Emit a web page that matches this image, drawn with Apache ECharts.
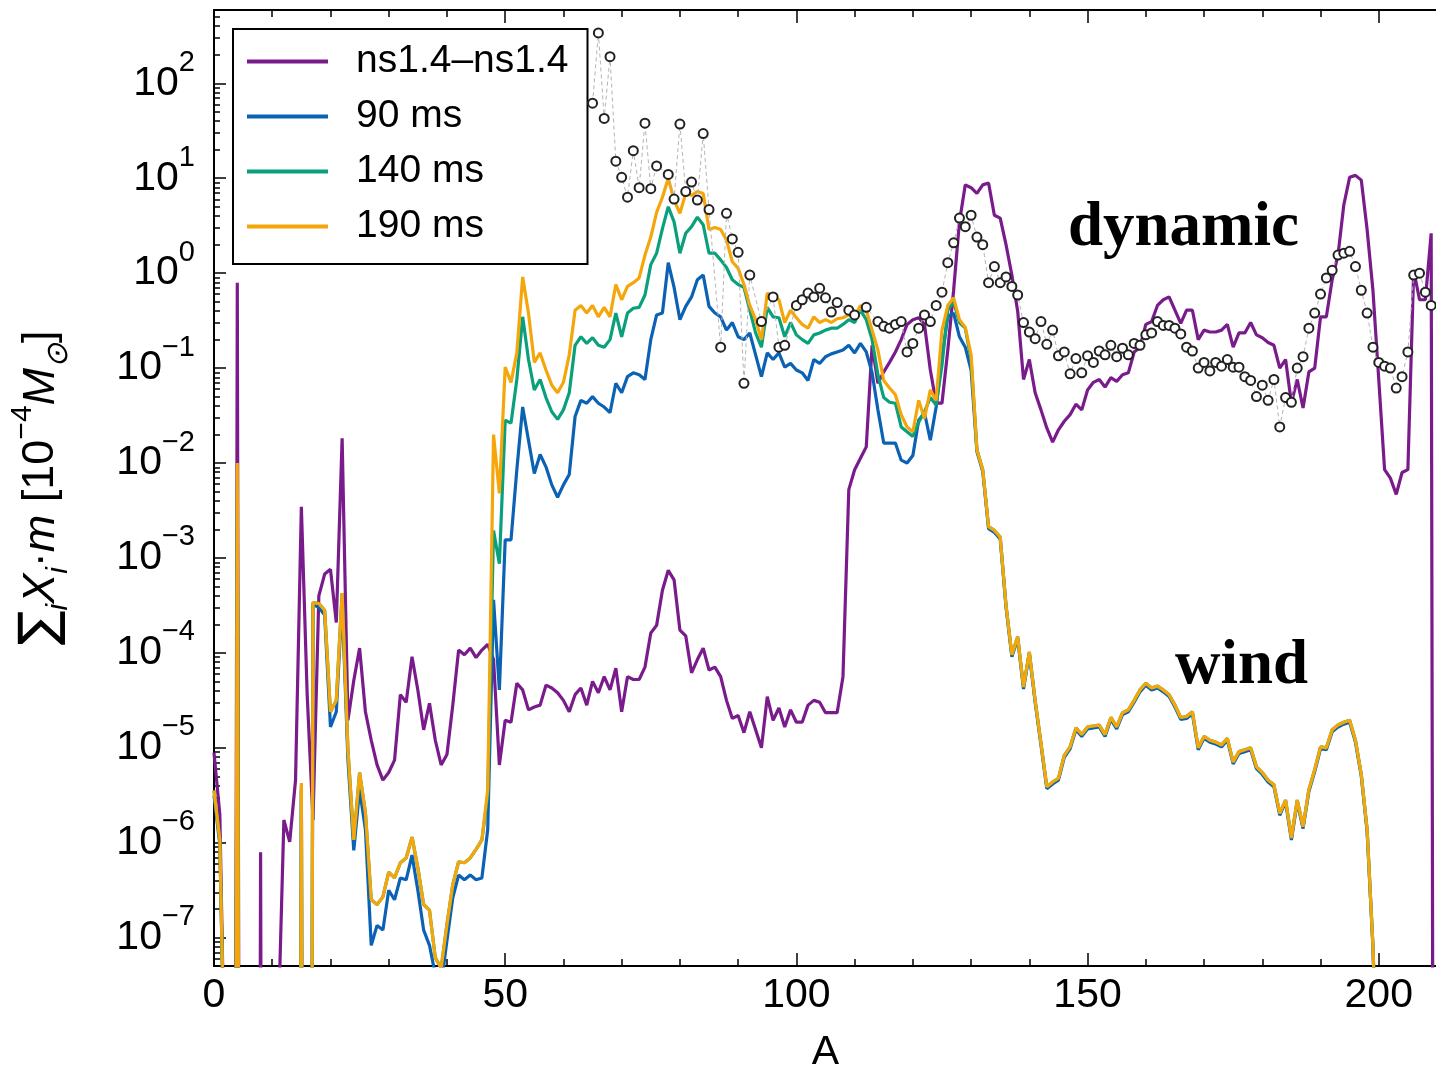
<!DOCTYPE html>
<html><head><meta charset="utf-8">
<script src="https://cdn.jsdelivr.net/npm/echarts@6/dist/echarts.min.js"></script>
<style>html,body{margin:0;padding:0;background:#fff}#c{width:1436px;height:1067px}</style>
</head><body><div id="c"></div><script>
// Mass number A
const range = (a, b) => Array.from({length: b - a + 1}, (_, i) => a + i);
const A_ns = range(0, 210);
const A_wind = range(0, 200);

// log10 of sum X_i*m [1e-4 Msun]; values far below the axis (-30) mark zero abundance
const logM_ns = [
 -5.05,-5.70,-9,-30,-0.10,-30,-30,-30,-6.10,-30,
 -30,-8,-5.76,-5.99,-5.34,-2.46,-4.44,-5.76,-3.40,-3.17,
 -3.12,-3.68,-1.74,-4.71,-4.29,-3.95,-4.62,-4.92,-5.18,-5.34,
 -5.26,-5.13,-4.44,-4.52,-4.04,-4.39,-4.81,-4.53,-4.92,-5.18,
 -5.07,-4.55,-3.97,-4.02,-3.95,-4.05,-3.97,-3.91,-4.07,-5.18,
 -4.71,-4.73,-4.32,-4.39,-4.60,-4.57,-4.55,-4.34,-4.37,-4.42,
 -4.50,-4.62,-4.44,-4.37,-4.55,-4.30,-4.42,-4.25,-4.39,-4.16,
 -4.62,-4.25,-4.28,-4.28,-4.15,-3.79,-3.71,-3.34,-3.13,-3.23,
 -3.76,-3.82,-4.21,-4.07,-3.95,-4.18,-4.15,-4.25,-4.50,-4.69,
 -4.66,-4.84,-4.62,-4.81,-5.00,-4.46,-4.71,-4.58,-4.78,-4.60,
 -4.73,-4.73,-4.55,-4.50,-4.52,-4.63,-4.63,-4.63,-4.25,-2.28,
 -2.07,-1.95,-1.83,-0.76,-1.16,-1.04,-0.94,-0.83,-0.70,-0.54,
 -0.49,-0.47,-0.54,-1.02,-1.37,-1.37,-0.81,-0.18,0.54,0.93,
 0.90,0.84,0.93,0.95,0.61,0.58,0.30,-0.02,-0.40,-1.12,
 -0.91,-1.26,-1.44,-1.63,-1.78,-1.65,-1.56,-1.49,-1.38,-1.44,
 -1.23,-1.15,-1.12,-1.20,-1.10,-1.14,-1.07,-1.05,-0.83,-0.78,
 -0.54,-0.51,-0.34,-0.28,-0.25,-0.39,-0.53,-0.39,-0.39,-0.70,
 -0.60,-0.62,-0.62,-0.60,-0.54,-0.78,-0.63,-0.63,-0.52,-0.65,
 -0.68,-0.73,-0.76,-1.00,-0.91,-1.37,-1.12,-1.42,-1.04,-1.00,
 -0.46,-0.46,-0.07,0.19,0.72,1.01,1.03,0.98,0.46,-0.18,
 -1.12,-2.07,-2.16,-2.33,-2.10,-2.07,0.03,-0.28,-0.28,0.42,
 -30
];

const logM_90 = [
 -5.50,-6.02,-9,-30,-2.6,-30,-30,-30,-30,-30,
 -30,-30,-30,-30,-30,-5.45,-30,-3.49,-3.52,-3.60,
 -4.78,-4.62,-3.44,-5.13,-6.08,-5.44,-5.86,-7.08,-6.87,-6.92,
 -6.50,-6.60,-6.37,-6.39,-6.13,-6.50,-6.92,-7.08,-7.39,-7.50,
 -7.03,-6.58,-6.34,-6.39,-6.34,-6.39,-6.37,-5.86,-3.44,-4.39,
 -2.81,-2.81,-2.07,-1.41,-1.76,-2.11,-1.91,-2.04,-2.23,-2.36,
 -2.23,-2.12,-1.51,-1.34,-1.37,-1.30,-1.37,-1.41,-1.47,-1.16,
 -1.26,-1.09,-1.05,-1.07,-1.12,-0.70,-0.44,-0.42,0.11,-0.15,
 -0.49,-0.35,-0.25,-0.07,-0.02,-0.35,-0.42,-0.46,-0.60,-0.52,
 -0.67,-0.70,-0.63,-0.86,-1.09,-0.84,-0.91,-0.84,-0.99,-0.95,
 -1.02,-1.05,-1.13,-0.91,-0.95,-0.88,-0.85,-0.83,-0.81,-0.76,
 -0.84,-0.74,-0.83,-1.05,-1.44,-1.79,-1.79,-1.79,-1.97,-2.00,
 -1.92,-1.55,-1.47,-1.76,-1.41,-0.88,-0.46,-0.42,-0.67,-0.78,
 -1.02,-1.88,-2.09,-2.69,-2.73,-2.80,-3.52,-4.04,-3.85,-4.38,
 -4.01,-4.52,-4.97,-5.43,-5.38,-5.34,-5.10,-5.01,-4.81,-4.88,
 -4.80,-4.79,-4.78,-4.88,-4.70,-4.80,-4.65,-4.62,-4.52,-4.41,
 -4.34,-4.39,-4.37,-4.41,-4.46,-4.57,-4.70,-4.69,-4.64,-5.02,
 -4.90,-4.94,-4.96,-4.99,-4.92,-5.17,-5.06,-5.04,-5.02,-5.22,
 -5.28,-5.36,-5.41,-5.71,-5.57,-5.97,-5.57,-5.85,-5.46,-5.25,
 -5.01,-5.02,-4.83,-4.78,-4.75,-4.73,-4.94,-5.30,-5.88,-7.10,
 -9
];

const logM_140 = [
 -5.45,-5.97,-9,-30,-2.2,-30,-30,-30,-30,-30,
 -30,-30,-30,-30,-30,-5.40,-30,-3.47,-3.48,-3.55,
 -4.62,-4.50,-3.37,-5.02,-5.97,-5.26,-5.68,-6.60,-6.65,-6.57,
 -6.31,-6.37,-6.21,-6.16,-5.94,-6.26,-6.65,-6.71,-7.21,-7.32,
 -6.86,-6.44,-6.20,-6.21,-6.16,-6.07,-5.97,-5.50,-2.71,-3.06,
 -1.55,-1.58,-1.12,-0.46,-0.91,-1.23,-1.12,-1.31,-1.46,-1.54,
 -1.44,-1.26,-0.76,-0.67,-0.74,-0.68,-0.76,-0.78,-0.70,-0.42,
 -0.67,-0.42,-0.37,-0.36,-0.23,0.09,0.21,0.47,0.70,0.54,
 0.21,0.42,0.49,0.59,0.51,0.21,0.21,0.14,0.06,-0.07,
 -0.12,-0.15,-0.39,-0.63,-0.78,-0.36,-0.46,-0.47,-0.67,-0.52,
 -0.65,-0.70,-0.74,-0.65,-0.63,-0.60,-0.58,-0.58,-0.54,-0.49,
 -0.52,-0.39,-0.49,-0.70,-1.07,-1.31,-1.36,-1.37,-1.62,-1.67,
 -1.72,-1.57,-1.46,-1.31,-1.39,-0.97,-0.39,-0.30,-0.52,-0.58,
 -0.91,-1.86,-2.07,-2.67,-2.71,-2.78,-3.50,-4.02,-3.83,-4.36,
 -3.99,-4.50,-4.95,-5.41,-5.36,-5.32,-5.08,-4.99,-4.79,-4.86,
 -4.78,-4.77,-4.76,-4.86,-4.68,-4.78,-4.63,-4.60,-4.50,-4.39,
 -4.32,-4.37,-4.35,-4.39,-4.44,-4.55,-4.68,-4.67,-4.62,-5.00,
 -4.88,-4.92,-4.94,-4.97,-4.90,-5.15,-5.04,-5.02,-5.00,-5.20,
 -5.26,-5.34,-5.39,-5.69,-5.55,-5.95,-5.55,-5.83,-5.44,-5.23,
 -4.99,-5.00,-4.81,-4.76,-4.73,-4.71,-4.92,-5.28,-5.86,-7.08,
 -9
];

const logM_190 = [
 -5.45,-5.97,-9,-30,-2.00,-30,-30,-30,-30,-30,
 -30,-30,-30,-30,-30,-5.37,-30,-3.47,-3.48,-3.55,
 -4.62,-4.50,-3.37,-5.02,-5.97,-5.26,-5.68,-6.60,-6.65,-6.57,
 -6.31,-6.37,-6.21,-6.16,-5.94,-6.26,-6.65,-6.71,-7.21,-7.32,
 -6.86,-6.44,-6.20,-6.21,-6.16,-6.07,-5.97,-5.44,-1.70,-2.32,
 -0.99,-1.15,-0.84,-0.04,-0.42,-0.94,-0.84,-1.02,-1.18,-1.26,
 -1.15,-0.86,-0.39,-0.34,-0.42,-0.34,-0.46,-0.36,-0.46,-0.12,
 -0.28,-0.14,-0.10,-0.05,0.19,0.38,0.64,0.80,1.00,0.77,
 0.63,0.84,0.82,0.86,0.84,0.46,0.48,0.46,0.35,0.12,
 0.05,-0.12,-0.34,-0.49,-0.70,-0.21,-0.25,-0.28,-0.52,-0.39,
 -0.47,-0.54,-0.58,-0.46,-0.52,-0.49,-0.52,-0.48,-0.47,-0.44,
 -0.47,-0.34,-0.39,-0.60,-0.81,-1.13,-1.21,-1.28,-1.49,-1.62,
 -1.67,-1.34,-1.53,-1.23,-1.34,-0.60,-0.34,-0.26,-0.49,-0.57,
 -0.86,-1.86,-2.07,-2.67,-2.71,-2.78,-3.50,-4.02,-3.83,-4.36,
 -3.99,-4.50,-4.95,-5.41,-5.36,-5.32,-5.08,-4.99,-4.79,-4.86,
 -4.78,-4.77,-4.76,-4.86,-4.68,-4.78,-4.63,-4.60,-4.50,-4.39,
 -4.32,-4.37,-4.35,-4.39,-4.44,-4.55,-4.68,-4.67,-4.62,-5.00,
 -4.88,-4.92,-4.94,-4.97,-4.90,-5.15,-5.04,-5.02,-5.00,-5.20,
 -5.26,-5.34,-5.39,-5.69,-5.55,-5.95,-5.55,-5.83,-5.44,-5.23,
 -4.99,-5.00,-4.81,-4.76,-4.73,-4.71,-4.92,-5.28,-5.86,-7.08,
 -9
];

// open circles (dynamic ejecta reference)
const A_dyn = [65,66,67,68,69,70,71,72,73,74,75,76,78,79,80,81,82,83,84,85,87,88,89,90,91,92,94,96,97,98,
 100,101,102,103,104,105,106,107,109,110,112,114,115,116,117,118,119,120,121,122,123,124,125,126,127,128,129,130,
 131,132,133,134,135,136,137,138,139,140,141,142,143,144,145,146,147,148,149,150,151,152,153,154,155,156,157,158,159,160,
 161,162,163,164,165,166,167,168,169,170,171,172,173,174,175,176,177,178,179,180,181,182,183,184,185,186,187,188,189,190,
 191,192,193,194,195,196,197,198,199,200,201,202,203,204,205,206,207,208,209];
const logM_dyn = [1.79,2.53,1.63,2.28,1.18,1.01,0.80,1.29,0.90,1.58,0.89,1.13,1.04,0.78,1.57,0.86,0.96,0.77,1.47,0.67,-0.78,0.63,0.36,0.22,-1.16,-0.02,-0.51,-0.25,-0.78,-0.76,
 -0.34,-0.28,-0.21,-0.25,-0.16,-0.26,-0.41,-0.31,-0.39,-0.44,-0.36,-0.51,-0.56,-0.58,-0.54,-0.51,-0.83,-0.74,-0.58,-0.44,-0.51,-0.34,-0.20,0.11,0.32,0.58,0.49,0.61,
 0.38,0.30,-0.10,0.07,-0.10,-0.04,-0.14,-0.23,-0.52,-0.62,-0.69,-0.51,-0.75,-0.60,-0.87,-0.83,-1.06,-0.90,-1.05,-0.87,-0.94,-0.82,-0.86,-0.76,-0.88,-0.79,-0.86,-0.74,-0.76,-0.65,
 -0.63,-0.51,-0.55,-0.55,-0.58,-0.64,-0.78,-0.82,-1.00,-0.94,-1.03,-0.94,-0.98,-0.91,-0.99,-0.99,-1.09,-1.13,-1.30,-1.18,-1.34,-1.12,-1.62,-1.31,-1.36,-1.00,-0.88,-0.58,-0.42,-0.22,
 -0.05,0.03,0.19,0.21,0.23,0.07,-0.18,-0.42,-0.78,-0.94,-0.98,-1.00,-1.21,-1.09,-0.83,-0.02,0.00,-0.20,-0.34];

const names = ['ns1.4\u2013ns1.4', '90 ms', '140 ms', '190 ms'];
const colors = ['#7a1b8c', '#0b62b5', '#0aa07c', '#f4a60a'];
const yMajor = [-7,-6,-5,-4,-3,-2,-1,0,1,2];
const xMajor = [0,50,100,150,200];
const xMinor = [10,20,30,40,60,70,80,90,110,120,130,140,160,170,180,190,210];

const Y_MIN = -7.298, Y_MAX = 2.772;
const yMinor = [];
for (let n = -8; n <= 2; n++) for (let k = 2; k <= 9; k++) {
  const v = n + Math.log10(k);
  if (v > Y_MIN && v < Y_MAX) yMinor.push(v);
}

const FF = 'Liberation Sans';
const pairs = (xs, ys) => xs.map((a, i) => [a, ys[i]]);
const lineSeries = (name, xs, ys, color, z) => ({
  type: 'line', name, data: pairs(xs, ys), symbol: 'none', showSymbol: false,
  lineStyle: {color, width: 3.2}, itemStyle: {color}, clip: true, z, animation: false
});

const axisLineStyle = {color: '#000', width: 2};
const tickStyle = {color: '#000', width: 1.5};
const sup = v => (v < 0 ? '\u2212' : '') + Math.abs(v);

const chart = echarts.init(document.getElementById('c'), null, {renderer: 'canvas'});
chart.setOption({
  backgroundColor: '#fff',
  animation: false,
  grid: {left: 214, top: 10, width: 1223, height: 956, containLabel: false, outerBoundsMode: 'none'},
  xAxis: [
    {type: 'value', min: 0, max: 210, position: 'bottom',
     axisLine: {show: true, onZero: false, lineStyle: axisLineStyle},
     axisTick: {show: true, inside: true, length: 13, lineStyle: tickStyle, customValues: xMajor},
     axisLabel: {show: true, customValues: xMajor, fontFamily: FF, fontSize: 41, color: '#000', margin: 9},
     splitLine: {show: false},
     name: 'A', nameLocation: 'middle', nameGap: 66,
     nameTextStyle: {fontFamily: FF, fontSize: 41, color: '#000'}},
    {type: 'value', min: 0, max: 210, position: 'bottom',
     axisLine: {show: false, onZero: false}, axisLabel: {show: false}, splitLine: {show: false},
     axisTick: {show: true, inside: true, length: 7, lineStyle: tickStyle, customValues: xMinor}},
    {type: 'value', min: 0, max: 210, position: 'top',
     axisLine: {show: true, onZero: false, lineStyle: axisLineStyle},
     axisLabel: {show: false}, splitLine: {show: false},
     axisTick: {show: true, inside: true, length: 13, lineStyle: tickStyle, customValues: xMajor}},
    {type: 'value', min: 0, max: 210, position: 'top',
     axisLine: {show: false, onZero: false}, axisLabel: {show: false}, splitLine: {show: false},
     axisTick: {show: true, inside: true, length: 7, lineStyle: tickStyle, customValues: xMinor}}
  ],
  yAxis: [
    {type: 'value', min: Y_MIN, max: Y_MAX, position: 'left',
     axisLine: {show: true, onZero: false, lineStyle: axisLineStyle},
     axisTick: {show: true, inside: true, length: 12, lineStyle: tickStyle, customValues: yMajor},
     axisLabel: {show: true, customValues: yMajor, margin: 19,
       formatter: v => '{b|10}{s|' + sup(Math.round(v)) + '}',
       rich: {
         b: {fontFamily: FF, fontSize: 41, color: '#000', lineHeight: 70},
         s: {fontFamily: FF, fontSize: 29, color: '#000', lineHeight: 29, verticalAlign: 'top'}
       }},
     splitLine: {show: false},
     name: '{sig|\u2211}{sub|i}{it|X}{sub|i}{n|\u00b7}{it|m}{n| [10}{sup|\u22124}{it|M}{sub|\u2299}{n|]}',
     nameLocation: 'middle', nameRotate: 90, nameGap: 140,
     nameTextStyle: {
       fontFamily: FF, fontSize: 45, color: '#000',
       rich: {
         n: {fontFamily: FF, fontSize: 45, color: '#000', lineHeight: 66},
         it: {fontFamily: FF, fontSize: 45, fontStyle: 'italic', color: '#000', lineHeight: 66},
         sig: {fontFamily: 'DejaVu Sans', fontSize: 52, color: '#000', lineHeight: 66},
         sup: {fontFamily: FF, fontSize: 30, color: '#000', lineHeight: 30, verticalAlign: 'top'},
         sub: {fontFamily: FF, fontSize: 30, fontStyle: 'italic', color: '#000', lineHeight: 30, verticalAlign: 'bottom'}
       }
     }},
    {type: 'value', min: Y_MIN, max: Y_MAX, position: 'left',
     axisLine: {show: false, onZero: false}, axisLabel: {show: false}, splitLine: {show: false},
     axisTick: {show: true, inside: true, length: 6, lineStyle: tickStyle, customValues: yMinor}}
  ],
  legend: {
    data: names, orient: 'vertical', left: 233, top: 29,
    icon: 'rect', itemWidth: 81, itemHeight: 4, itemGap: 16,
    padding: [13, 19, 18, 14],
    backgroundColor: '#fff', borderColor: '#000', borderWidth: 2, borderRadius: 0,
    selectedMode: false,
    textStyle: {fontFamily: FF, fontSize: 39, color: '#000', lineHeight: 36, padding: [0, 0, 0, 23]}
  },
  series: [
    lineSeries(names[0], A_ns, logM_ns, colors[0], 2),
    lineSeries(names[1], A_wind, logM_90, colors[1], 3),
    lineSeries(names[2], A_wind, logM_140, colors[2], 4),
    lineSeries(names[3], A_wind, logM_190, colors[3], 5),
    {type: 'line', name: 'dyn', data: pairs(A_dyn, logM_dyn), symbol: 'emptyCircle', symbolSize: 9,
     showSymbol: true, showAllSymbol: true, clip: true, z: 6,
     itemStyle: {color: '#222', borderColor: '#222', borderWidth: 1.4},
     lineStyle: {color: '#b5b5b5', width: 1, type: [4, 3]}}
  ],
  graphic: [
    {type: 'text', x: 1068, y: 229, z: 10,
     style: {text: 'dynamic', fill: '#000', font: 'bold 63px "Liberation Serif"', textVerticalAlign: 'middle', verticalAlign: 'middle'}},
    {type: 'text', x: 1175, y: 667, z: 10,
     style: {text: 'wind', fill: '#000', font: 'bold 63px "Liberation Serif"', textVerticalAlign: 'middle', verticalAlign: 'middle'}}
  ]
});
</script></body></html>
